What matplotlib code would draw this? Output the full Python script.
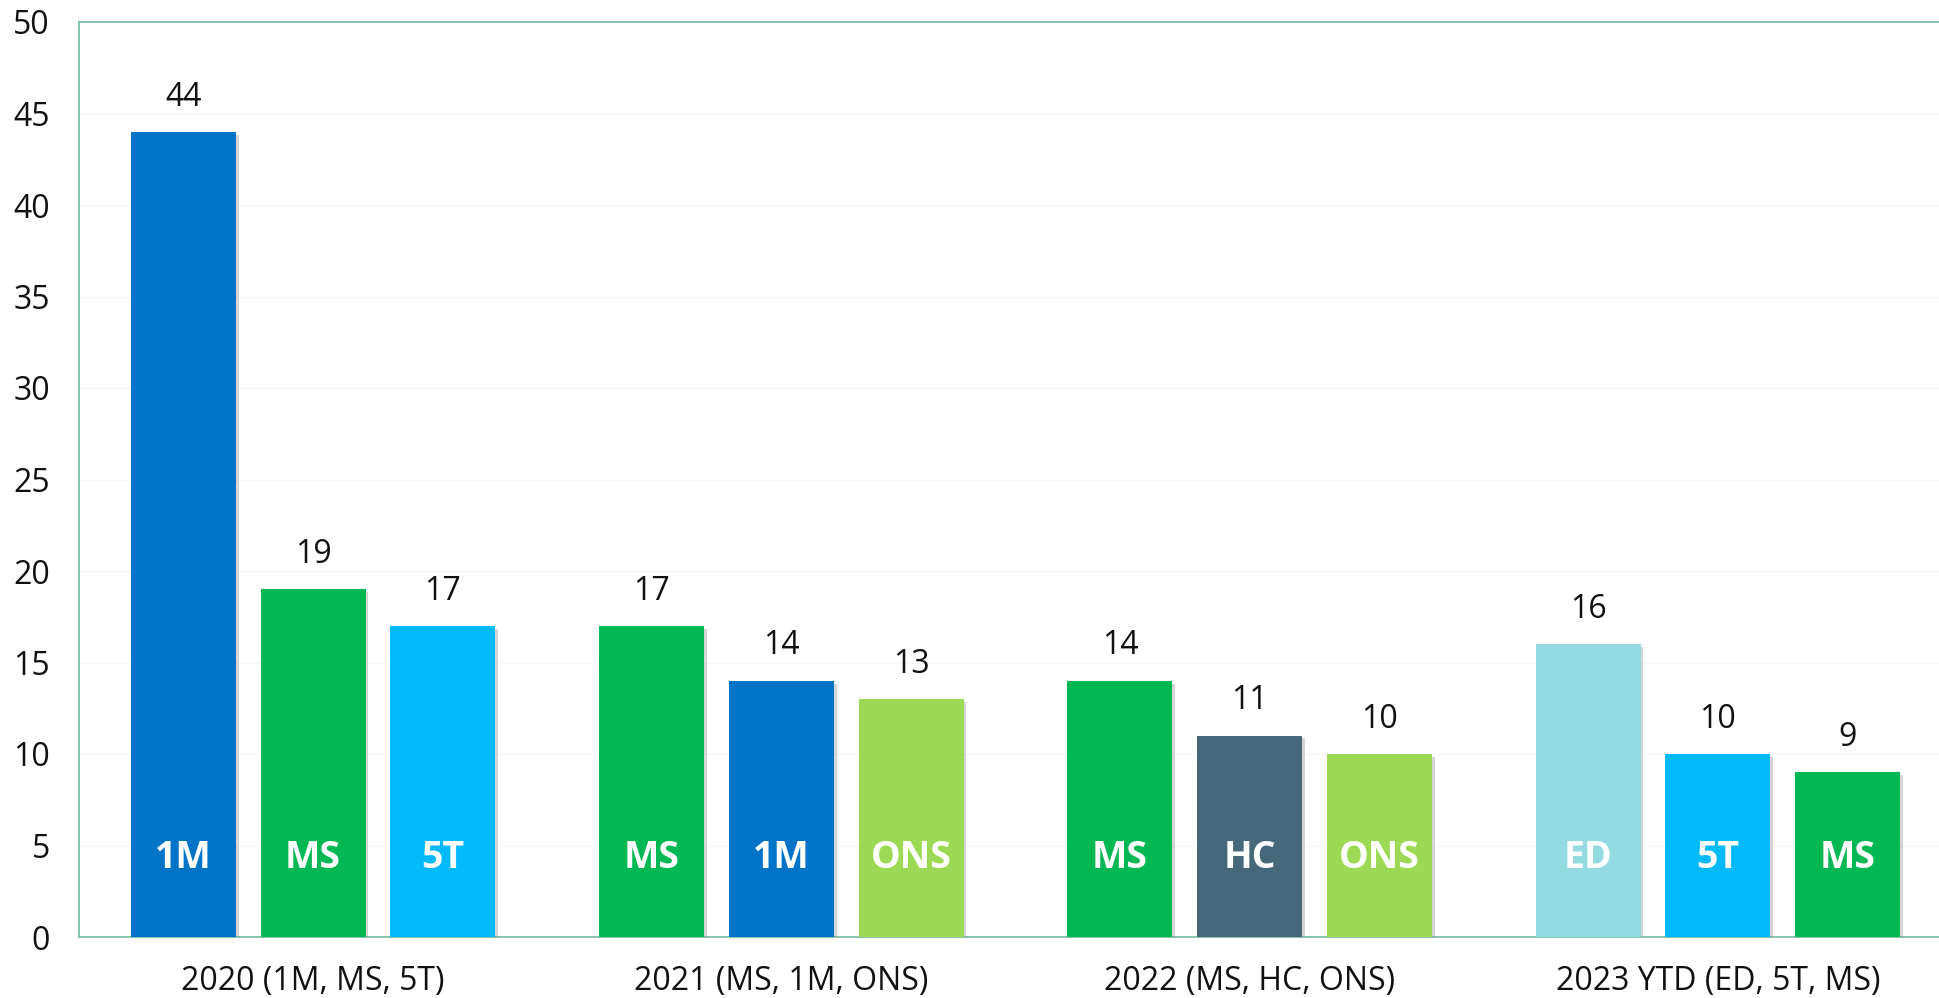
import numpy as np
import matplotlib
matplotlib.use('Agg')
import matplotlib.pyplot as plt
import matplotlib.patheffects as pe

# data
groups = ['2020 (1M, MS, 5T)', '2021 (MS, 1M, ONS)', '2022 (MS, HC, ONS)', '2023 YTD (ED, 5T, MS)']
codes = [['1M', 'MS', '5T'], ['MS', '1M', 'ONS'], ['MS', 'HC', 'ONS'], ['ED', '5T', 'MS']]
values = [[44, 19, 17], [17, 14, 13], [14, 11, 10], [16, 10, 9]]
colours = {'1M': '#0174C8', 'MS': '#02B853', '5T': '#02BAF9',
           'ONS': '#9CDA55', 'HC': '#45687B', 'ED': '#93DBE1'}

plt.rcParams['font.family'] = ['Open Sans', 'DejaVu Sans']

fig = plt.figure(figsize=(19.39, 9.98), dpi=100)
# axes runs a little past the right edge of the canvas, as in the reference
ax = fig.add_axes([79 / 1939, 1 - 937 / 998, (1952 - 79) / 1939, (937 - 22) / 998])

pitch = 0.277
width = 0.224
shadow = [pe.SimplePatchShadow(offset=(2, -2), shadow_rgbFace='#888888', alpha=0.35), pe.Normal()]
for g, (cs, vs) in enumerate(zip(codes, values)):
    for i, (c, v) in enumerate(zip(cs, vs)):
        x = g + (i - 1) * pitch
        b = ax.bar(x, v, width=width, color=colours[c], zorder=3)
        b[0].set_path_effects(shadow)
        ax.text(x, v + 1.0, str(v), ha='center', va='bottom', fontsize=23, color='#111111')
        ax.text(x, 4.3, c, ha='center', va='center', fontsize=27, fontweight='bold',
                color='white', zorder=4)

ax.set_xlim(-0.5, 3.5)
ax.set_ylim(0, 50)
ax.set_yticks(np.arange(0, 51, 5))
ax.set_xticks(range(len(groups)))
ax.set_xticklabels(groups)
ax.tick_params(axis='y', length=0, pad=21, labelsize=23, labelcolor='#111111')
ax.tick_params(axis='x', length=0, pad=20, labelsize=23, labelcolor='#111111')
ax.grid(axis='y', color='#F6F6F6', lw=1, zorder=0)
ax.set_axisbelow(True)
for s in ['left', 'top', 'bottom']:
    ax.spines[s].set_color('#7DBFA6')
    ax.spines[s].set_linewidth(1.3)
ax.spines['right'].set_visible(False)

fig.savefig('out.png', dpi=100)
